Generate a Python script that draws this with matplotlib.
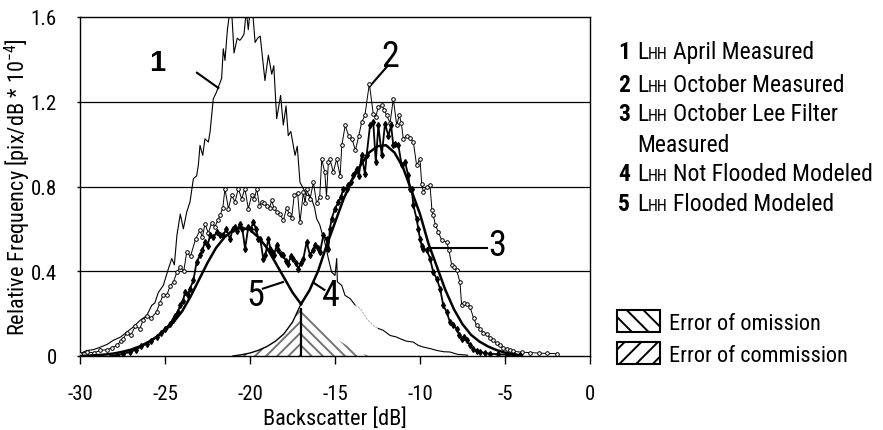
import numpy as np
import matplotlib
matplotlib.use("Agg")
import matplotlib.pyplot as plt
from matplotlib.patches import Rectangle
from matplotlib import font_manager

_fonts = font_manager.fontManager.ttflist
_names = {f.name for f in _fonts}
_narrow = [f.name for f in _fonts if ('Narrow' in f.name or 'Condensed' in f.name)]
_cond_noto = [f for f in _fonts if f.name == 'Noto Sans' and f.stretch in ('condensed', 'semi-condensed', 625, 750)]
FONT_STRETCH = 'normal'
if 'Liberation Sans Narrow' in _names:
    BASE = 'Liberation Sans Narrow'
elif 'Arial Narrow' in _names:
    BASE = 'Arial Narrow'
elif 'Roboto Condensed' in _names:
    BASE = 'Roboto Condensed'
elif _narrow:
    BASE = sorted(_narrow)[0]
elif _cond_noto:
    BASE = 'Noto Sans'
    FONT_STRETCH = 'condensed'
else:
    BASE = 'Liberation Sans'

plt.rcParams['font.family'] = [BASE, 'Liberation Sans', 'DejaVu Sans']
plt.rcParams['font.stretch'] = FONT_STRETCH
plt.rcParams['mathtext.default'] = 'regular'
plt.rcParams['hatch.linewidth'] = 1.4

# ---------------- data ----------------
# 1  L_HH April measured
april_db = [-30.0, -29.6, -29.2, -28.8, -28.4, -28.04, -27.6, -27.25, -26.86, -26.47, -26.08, -25.78,
            -25.6, -25.39, -25.1, -24.8, -24.6, -24.45, -24.3, -24.1, -23.92, -23.72, -23.53, -23.33,
            -23.14, -23.04, -22.94, -22.78, -22.65, -22.45, -22.35, -22.16, -22.0, -21.86, -21.67,
            -21.57, -21.47, -21.33, -21.18, -21.08, -20.94, -20.75, -20.6, -20.49, -20.35, -20.22,
            -20.1, -20.0, -19.85, -19.7, -19.55, -19.4, -19.12, -18.92, -18.72, -18.6, -18.43, -18.2,
            -18.04, -17.88, -17.75, -17.6, -17.49, -17.35, -17.22, -17.06, -16.86, -16.66, -16.5,
            -16.37, -16.2, -16.08, -15.9, -15.78, -15.65, -15.5, -15.39, -15.2, -15.0, -14.9, -14.86,
            -14.6, -14.41, -14.1, -13.8, -13.5, -13.14, -12.75, -12.45, -12.16, -11.76, -11.4, -11.18,
            -10.8, -10.4, -10.1, -9.8, -9.4, -9.0, -8.6, -8.24, -7.8, -7.2]
april_freq = [0.011, 0.026, 0.03, 0.042, 0.055, 0.074, 0.09, 0.113, 0.137, 0.168, 0.19, 0.239,
              0.25, 0.30, 0.333, 0.412, 0.46, 0.43, 0.569, 0.67, 0.60, 0.68, 0.727, 0.837,
              0.85, 0.90, 0.994, 0.947, 1.025, 1.01, 1.057, 1.214, 1.24, 1.27, 1.31,
              1.45, 1.395, 1.54, 1.63, 1.63, 1.43, 1.50, 1.49, 1.50, 1.52, 1.63,
              1.54, 1.63, 1.63, 1.48, 1.50, 1.51, 1.30, 1.42, 1.33, 1.37, 1.12, 1.23,
              1.09, 1.18, 1.04, 1.06, 1.01, 0.947, 0.99, 0.82, 0.79, 0.758, 0.76,
              0.74, 0.70, 0.648, 0.62, 0.585, 0.553, 0.50, 0.46, 0.396, 0.38, 0.46, 0.35,
              0.333, 0.286, 0.27, 0.239, 0.223, 0.176, 0.144, 0.13, 0.121, 0.097, 0.09, 0.082,
              0.07, 0.066, 0.05, 0.042, 0.035, 0.026, 0.02, 0.019, 0.008, 0.004]

# 2  L_HH October measured
october_db = [-30.0, -29.6, -29.2, -28.8, -28.4, -28.1, -27.84, -27.6, -27.45, -27.25, -27.0, -26.75,
              -26.47, -26.3, -26.08, -25.8, -25.5, -25.3, -25.1, -24.9, -24.7, -24.5, -24.3, -24.1,
              -23.9, -23.72, -23.5, -23.2, -22.94, -22.8, -22.65, -22.45, -22.25, -22.06, -21.9,
              -21.76, -21.6, -21.47, -21.27, -21.08, -20.88, -20.69, -20.49, -20.3, -20.1, -19.9,
              -19.75, -19.6, -19.45, -19.31, -19.15, -19.0, -18.85, -18.72, -18.6, -18.43, -18.24,
              -18.04, -17.84, -17.7, -17.55, -17.4, -17.2, -17.06, -16.86, -16.76, -16.67, -16.47,
              -16.27, -16.08, -15.9, -15.78, -15.6, -15.5, -15.39, -15.3, -15.1, -14.9, -14.7, -14.6,
              -14.4, -14.2, -14.0, -13.8, -13.6, -13.43, -13.24, -12.98, -12.75, -12.6, -12.45,
              -12.25, -12.1, -11.96, -11.76, -11.57, -11.37, -11.22, -11.1, -10.98, -10.78, -10.6,
              -10.39, -10.2, -10.0, -9.9, -9.8, -9.6, -9.41, -9.3, -9.22, -9.1, -8.92, -8.72, -8.43,
              -8.3, -8.13, -7.98, -7.84, -7.65, -7.55, -7.4, -7.25, -7.06, -6.85, -6.67, -6.47,
              -6.28, -6.08, -5.88, -5.69, -5.5, -5.29, -5.1, -4.9, -4.7, -4.51, -4.0, -3.53, -3.0,
              -2.55, -1.96]
october_freq = [0.01, 0.019, 0.015, 0.026, 0.03, 0.04, 0.05, 0.07, 0.082, 0.11, 0.10, 0.14,
                0.129, 0.17, 0.19, 0.18, 0.208, 0.25, 0.29, 0.286, 0.33, 0.35, 0.396, 0.42,
                0.40, 0.49, 0.47, 0.553, 0.593, 0.56, 0.624, 0.58, 0.63, 0.61, 0.64,
                0.664, 0.70, 0.79, 0.695, 0.758, 0.727, 0.79, 0.742, 0.79, 0.695, 0.758,
                0.74, 0.79, 0.71, 0.727, 0.72, 0.71, 0.70, 0.734, 0.70, 0.68, 0.67,
                0.64, 0.70, 0.67, 0.65, 0.76, 0.77, 0.632, 0.774, 0.72, 0.79, 0.74,
                0.82, 0.72, 0.75, 0.93, 0.868, 0.75, 0.915, 0.93, 0.868, 0.93, 0.85, 0.994,
                1.088, 1.04, 1.025, 0.97, 1.04, 1.104, 1.136, 1.285, 1.143, 1.13, 1.175,
                1.183, 1.16, 1.136, 1.10, 1.214, 1.09, 1.136, 1.10, 1.025, 1.04, 1.03,
                1.01, 0.90, 0.93, 0.813, 0.774, 0.80, 0.805, 0.69, 0.664, 0.62, 0.585, 0.546, 0.538,
                0.50, 0.428, 0.42, 0.404, 0.349, 0.239, 0.25, 0.247, 0.231, 0.18, 0.144, 0.129,
                0.11, 0.105, 0.085, 0.074, 0.06, 0.05, 0.04, 0.034, 0.028, 0.022, 0.018, 0.016, 0.014,
                0.012, 0.011]

# 3  L_HH October Lee filter measured
lee_db = [-28.2, -27.84, -27.5, -27.06, -26.7, -26.4, -26.08, -25.8, -25.5, -25.25, -25.0, -24.7,
          -24.55, -24.4, -24.25, -24.1, -23.95, -23.82, -23.65, -23.53, -23.33, -23.14, -22.94,
          -22.8, -22.65, -22.5, -22.35, -22.15, -21.96, -21.75, -21.57, -21.4, -21.18, -21.0,
          -20.88, -20.75, -20.59, -20.45, -20.29, -20.1, -19.95, -19.8, -19.65, -19.51, -19.4,
          -19.22, -19.1, -18.92, -18.8, -18.72, -18.6, -18.43, -18.33, -18.2, -18.04, -17.9,
          -17.75, -17.6, -17.45, -17.3, -17.16, -17.0, -16.86, -16.67, -16.47, -16.3, -16.18,
          -16.0, -15.88, -15.69, -15.5, -15.39, -15.3, -15.2, -15.0, -14.8, -14.65, -14.51, -14.3,
          -14.22, -14.05, -13.92, -13.73, -13.6, -13.43, -13.24, -13.14, -12.94, -12.75, -12.6,
          -12.45, -12.25, -12.06, -11.86, -11.7, -11.57, -11.47, -11.27, -11.08, -10.88, -10.69,
          -10.59, -10.49, -10.39, -10.2, -10.1, -10.0, -9.9, -9.8, -9.6, -9.41, -9.22, -9.02,
          -8.82, -8.63, -8.43, -8.24, -8.04, -7.84, -7.7, -7.55, -7.4, -7.25, -7.05, -6.86,
          -6.65, -6.47, -6.2, -5.88, -5.4, -4.9, -4.5, -4.1]
lee_freq = [0.0, 0.003, 0.01, 0.019, 0.03, 0.045, 0.058, 0.07, 0.09, 0.11, 0.129, 0.152,
            0.17, 0.19, 0.21, 0.239, 0.26, 0.30, 0.29, 0.318, 0.357, 0.444, 0.475,
            0.50, 0.538, 0.52, 0.569, 0.56, 0.585, 0.57, 0.569, 0.60, 0.553, 0.60,
            0.609, 0.59, 0.624, 0.60, 0.506, 0.609, 0.60, 0.632, 0.60, 0.553, 0.553,
            0.46, 0.475, 0.553, 0.506, 0.49, 0.475, 0.522, 0.498, 0.48, 0.475, 0.45,
            0.436, 0.47, 0.46, 0.44, 0.412, 0.44, 0.46, 0.538, 0.475, 0.50, 0.522,
            0.51, 0.49, 0.569, 0.55, 0.506, 0.60, 0.648, 0.695, 0.727, 0.75, 0.79, 0.79,
            0.805, 0.82, 0.852, 0.884, 0.85, 0.947, 0.86, 0.947, 1.088, 1.104, 0.915,
            1.088, 0.947, 1.096, 1.04, 1.088, 0.994, 1.002, 0.994, 0.90, 0.915, 0.852,
            0.79, 0.79, 0.711, 0.648, 0.60, 0.553, 0.52, 0.506, 0.50, 0.46, 0.396, 0.365,
            0.318, 0.239, 0.208, 0.16, 0.144, 0.129, 0.10, 0.082, 0.09, 0.074, 0.05, 0.034,
            0.025, 0.019, 0.015, 0.011, 0.008, 0.006, 0.004, 0.003]

# 4  L_HH not flooded modeled
notflood_db = [-21.0, -20.5, -20.0, -19.5, -19.0, -18.5, -18.0, -17.5, -17.0, -16.5, -16.0, -15.5,
               -15.0, -14.5, -14.0, -13.5, -13.0, -12.5, -12.0, -11.5, -11.0, -10.5, -10.0, -9.5,
               -9.0, -8.5, -8.0, -7.5, -7.0, -6.5, -6.0, -5.5, -5.0, -4.5, -4.0]
notflood_freq = [0.0, 0.006, 0.014, 0.027, 0.045, 0.07, 0.105, 0.16, 0.245, 0.31, 0.40, 0.52,
                 0.63, 0.74, 0.83, 0.90, 0.96, 0.99, 0.995, 0.96, 0.89, 0.78, 0.67, 0.53,
                 0.42, 0.31, 0.22, 0.15, 0.10, 0.068, 0.045, 0.028, 0.016, 0.008, 0.003]

# 5  L_HH flooded modeled
flood_db = [-30.0, -29.5, -29.0, -28.5, -28.0, -27.5, -27.0, -26.5, -26.0, -25.5, -25.0, -24.5,
            -24.0, -23.5, -23.0, -22.5, -22.0, -21.5, -21.0, -20.5, -20.0, -19.5, -19.0, -18.5,
            -18.0, -17.5, -17.0, -16.5, -16.0, -15.5, -15.0, -14.5, -14.0, -13.5, -13.0]
flood_freq = [0.0, 0.002, 0.004, 0.007, 0.012, 0.02, 0.03, 0.045, 0.065, 0.09, 0.12, 0.16,
              0.21, 0.28, 0.36, 0.44, 0.51, 0.56, 0.595, 0.605, 0.595, 0.56, 0.51, 0.44,
              0.37, 0.30, 0.245, 0.19, 0.15, 0.115, 0.085, 0.06, 0.035, 0.015, 0.0]

threshold_db = -17.0

x_ticks = [-30, -25, -20, -15, -10, -5, 0]
y_ticks = [0, 0.4, 0.8, 1.2, 1.6]
y_ticklabels = ['0', '0.4', '0.8', '1.2', '1.6']

legend_nums = ['1', '2', '3', '4', '5']
legend_texts = ['April Measured', 'October Measured', 'October Lee Filter', 'Not Flooded Modeled',
                'Flooded Modeled']
hatch_labels = ['Error of omission', 'Error of commission']

# ---------------- figure ----------------
W, H = 883, 431
fig = plt.figure(figsize=(W / 100, H / 100), dpi=100)
ax = fig.add_axes([80 / W, 1 - 357 / H, 510 / W, 339 / H])

a_x, a_y = np.array(april_db), np.array(april_freq)
o_x, o_y = np.array(october_db), np.array(october_freq)
l_x, l_y = np.array(lee_db), np.array(lee_freq)
n_x, n_y = np.array(notflood_db), np.array(notflood_freq)
f_x, f_y = np.array(flood_db), np.array(flood_freq)

# hatched error areas
mL = n_x <= threshold_db
ax.fill_between(n_x[mL], 0, n_y[mL], facecolor='white', edgecolor='0.45', hatch='///',
                linewidth=0, zorder=1)
mR = f_x >= threshold_db
ax.fill_between(f_x[mR], 0, f_y[mR], facecolor='white', edgecolor='0.45', hatch='\\\\\\',
                linewidth=0, zorder=1)
ax.plot(n_x[mL], n_y[mL], color='black', lw=1.0, zorder=2)
ax.vlines(threshold_db, 0, n_y[n_x == threshold_db][0] * 0.92, color='black', lw=1.6, zorder=3)

# grid
for gy in y_ticks[1:-1]:
    ax.axhline(gy, color='black', lw=0.9, zorder=0.5)

# series 1 (with faded section)
m1 = a_x <= -13.8
m2 = (a_x >= -13.8) & (a_x <= -12.45)
m3 = a_x >= -12.45
ax.plot(a_x[m1], a_y[m1], color='black', lw=0.8, zorder=4)
ax.plot(a_x[m2], a_y[m2], color='0.7', lw=0.8, ls=(0, (2, 1)), zorder=4)
ax.plot(a_x[m3], a_y[m3], color='black', lw=0.8, zorder=4)

# series 2
ax.plot(o_x, o_y, color='black', lw=0.7, marker='o', ms=2.6, mfc='white', mec='black',
        mew=0.7, zorder=5)
# series 3
ax.plot(l_x, l_y, color='black', lw=1.3, marker='d', ms=3.0, mfc='black', mec='black',
        zorder=6)

# models
mf = f_x <= threshold_db
ax.plot(f_x[mf], f_y[mf], color='black', lw=1.8, zorder=7)
mn = n_x >= threshold_db
ax.plot(n_x[mn], n_y[mn], color='black', lw=1.8, zorder=7)

# annotations
ax.text(-25.47, 1.389, '1', fontsize=21, fontweight='bold', ha='center', va='center',
        family=['Liberation Sans', 'DejaVu Sans'])
ax.plot([-23.12, -21.86], [1.337, 1.265], color='black', lw=1.5)
ax.text(-11.76, 1.417, '2', fontsize=26, ha='center', va='center')
ax.plot([-11.96, -12.94], [1.364, 1.274], color='black', lw=1.5)
ax.text(-5.45, 0.522, '3', fontsize=26, ha='center', va='center')
ax.plot([-9.51, -6.08], [0.51, 0.51], color='black', lw=1.5)
ax.text(-15.22, 0.29, '4', fontsize=26, ha='center', va='center')
ax.plot([-16.25, -15.62], [0.345, 0.312], color='black', lw=1.5)
ax.text(-19.71, 0.29, '5', fontsize=26, ha='center', va='center')
ax.plot([-19.24, -18.06], [0.318, 0.349], color='black', lw=1.5)

ax.set_xlim(-30, 0)
ax.set_ylim(0, 1.6)
ax.set_xticks(x_ticks)
ax.set_xticklabels([str(v) for v in x_ticks])
ax.set_yticks(y_ticks)
ax.set_yticklabels(y_ticklabels)
ax.tick_params(axis='x', direction='out', length=6, width=1, pad=14, labelsize=15)
ax.tick_params(axis='y', direction='out', length=2.5, width=1, pad=14, labelsize=15)
for s in ax.spines.values():
    s.set_linewidth(1.0)
ax.set_xlabel('Backscatter [dB]', fontsize=16)
ax.set_ylabel('Relative Frequency [pix/dB * 10$^{-4}$]', fontsize=16)
ax.xaxis.set_label_coords(0.5, (357 - 408) / 339)
ax.yaxis.set_label_coords((33 - 80) / 510, 0.5)

# ---------------- custom legend ----------------
renderer = fig.canvas.get_renderer()


def put(x, y, s, **kw):
    t = fig.text(x / W, 1 - y / H, s, ha='left', va='baseline', **kw)
    return x + t.get_window_extent(renderer).width


baselines = [59, 91.5, 121.5, 181.5, 211.5]
for num, txt, yb in zip(legend_nums, legend_texts, baselines):
    put(618, yb, num, fontsize=17, fontweight='bold')
    x = put(637, yb, 'L', fontsize=17)
    x = put(x, yb, 'HH', fontsize=11.5)
    put(x + 5, yb, txt, fontsize=17)
put(637, 151.5, 'Measured', fontsize=17)

box_tops = [311, 343]
for (lab, top, hp) in zip(hatch_labels, box_tops, ['\\\\', '//']):
    r = Rectangle((617 / W, 1 - (top + 22) / H), 43 / W, 22 / H, transform=fig.transFigure,
                  facecolor='white', edgecolor='black', hatch=hp, lw=1.5)
    fig.patches.append(r)
    put(669, top + 19, lab, fontsize=16)

fig.savefig('out.png', dpi=100)
